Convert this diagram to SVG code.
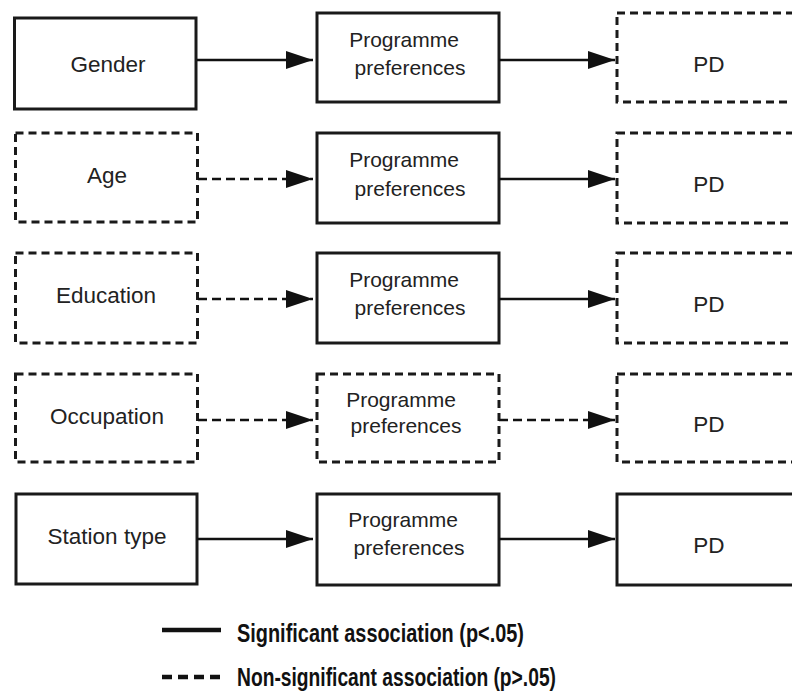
<svg xmlns="http://www.w3.org/2000/svg" width="792" height="693" viewBox="0 0 792 693">
  <style>
    .box { fill: #ffffff; stroke: #1a1a1a; stroke-width: 3; }
    .dash { stroke-dasharray: 8 5; }
    .lbl { font-family: "Liberation Sans", Arial, sans-serif; font-size: 22.5px; fill: #222222; text-anchor: middle; }
    .mid { font-family: "Liberation Sans", Arial, sans-serif; font-size: 21px; fill: #222222; text-anchor: middle; }
    .conn { stroke: #111111; stroke-width: 2.5; fill: none; }
    .conn.ns { stroke-dasharray: 9 5; }
    .legend { font-family: "Liberation Sans", Arial, sans-serif; font-size: 25px; font-weight: bold; fill: #111111; }
  </style>
  <defs>
    <marker id="head" markerUnits="userSpaceOnUse" markerWidth="28" markerHeight="18" refX="27" refY="9" orient="auto">
      <path d="M0,0 L27,9 L0,18 Z" fill="#111111"/>
    </marker>
  </defs>
  <rect width="792" height="693" fill="#ffffff"/>

  <!-- predictors -->
  <g id="gender"><rect class="box" x="14.5" y="18" width="181.5" height="91"/><text class="lbl" x="108" y="72">Gender</text></g>
  <g id="age"><rect class="box dash" x="15.5" y="133" width="182" height="89"/><text class="lbl" x="107" y="183">Age</text></g>
  <g id="education"><rect class="box dash" x="15.5" y="253" width="182" height="90"/><text class="lbl" x="106" y="303">Education</text></g>
  <g id="occupation"><rect class="box dash" x="15.5" y="374" width="182" height="88"/><text class="lbl" x="107" y="424">Occupation</text></g>
  <g id="station"><rect class="box" x="16" y="494" width="181" height="90"/><text class="lbl" x="107" y="544">Station type</text></g>

  <!-- mediators -->
  <g id="prog1"><rect class="box" x="317" y="13" width="182" height="89"/><text class="mid" x="404" y="47">Programme</text><text class="mid" x="410" y="75">preferences</text></g>
  <g id="prog2"><rect class="box" x="317" y="133" width="182" height="90"/><text class="mid" x="404" y="167">Programme</text><text class="mid" x="410" y="196">preferences</text></g>
  <g id="prog3"><rect class="box" x="317" y="253" width="182" height="90"/><text class="mid" x="404" y="287">Programme</text><text class="mid" x="410" y="315">preferences</text></g>
  <g id="prog4"><rect class="box dash" x="317" y="374" width="182" height="88"/><text class="mid" x="401" y="407">Programme</text><text class="mid" x="406" y="433">preferences</text></g>
  <g id="prog5"><rect class="box" x="317" y="494" width="182" height="91"/><text class="mid" x="403" y="527">Programme</text><text class="mid" x="409" y="555">preferences</text></g>

  <!-- outcomes -->
  <g id="pd1"><rect class="box dash" x="617" y="13" width="190" height="89"/><text class="lbl" x="709" y="72">PD</text></g>
  <g id="pd2"><rect class="box dash" x="617" y="133" width="190" height="90"/><text class="lbl" x="709" y="192">PD</text></g>
  <g id="pd3"><rect class="box dash" x="617" y="253" width="190" height="90"/><text class="lbl" x="709" y="312">PD</text></g>
  <g id="pd4"><rect class="box dash" x="617" y="374" width="190" height="88"/><text class="lbl" x="709" y="432">PD</text></g>
  <g id="pd5"><rect class="box" x="617" y="494" width="190" height="91"/><text class="lbl" x="709" y="553">PD</text></g>

  <!-- connectors -->
  <g id="connectors">
    <line class="conn" x1="197" y1="60" x2="313" y2="60" marker-end="url(#head)"/>
    <line class="conn" x1="499" y1="60" x2="615" y2="60" marker-end="url(#head)"/>
    <line class="conn ns" x1="198" y1="179" x2="313" y2="179" marker-end="url(#head)"/>
    <line class="conn" x1="499" y1="179" x2="615" y2="179" marker-end="url(#head)"/>
    <line class="conn ns" x1="198" y1="299" x2="313" y2="299" marker-end="url(#head)"/>
    <line class="conn" x1="499" y1="299" x2="615" y2="299" marker-end="url(#head)"/>
    <line class="conn ns" x1="198" y1="420" x2="313" y2="420" marker-end="url(#head)"/>
    <line class="conn ns" x1="499" y1="420" x2="615" y2="420" marker-end="url(#head)"/>
    <line class="conn" x1="197" y1="539" x2="313" y2="539" marker-end="url(#head)"/>
    <line class="conn" x1="499" y1="539" x2="615" y2="539" marker-end="url(#head)"/>
  </g>

  <!-- key -->
  <g id="legend">
    <line x1="162" y1="630" x2="221" y2="630" stroke="#111111" stroke-width="4.5"/>
    <text class="legend" x="237" y="642" textLength="287" lengthAdjust="spacingAndGlyphs">Significant association (p&lt;.05)</text>
    <line x1="162" y1="677" x2="221" y2="677" stroke="#111111" stroke-width="4.5" stroke-dasharray="10 6"/>
    <text class="legend" x="237" y="686" textLength="319" lengthAdjust="spacingAndGlyphs">Non-significant association (p&gt;.05)</text>
  </g>
</svg>
